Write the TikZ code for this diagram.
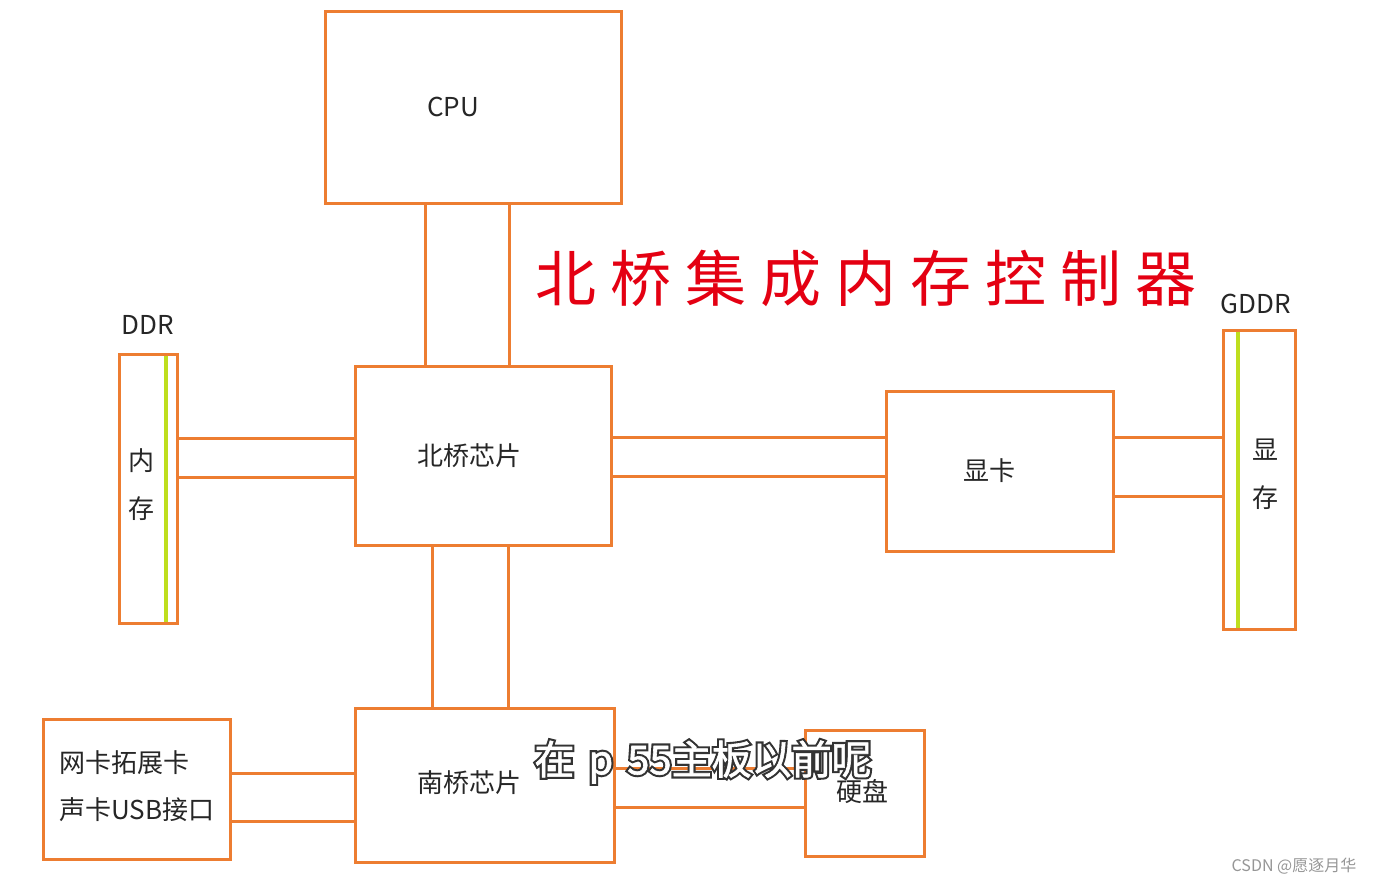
\documentclass[tikz,border=0pt]{standalone}
\usepackage{fontspec}
\setmainfont{Noto Sans CJK SC}
\newfontfamily\titlefont[LetterSpace=23]{Noto Sans CJK SC}
\newfontfamily\subfont[FakeBold=1.5]{Noto Sans CJK SC}
\newfontfamily\subfontbold[FakeBold=12]{Noto Sans CJK SC}
\definecolor{org}{RGB}{237,125,49}
\definecolor{grn}{RGB}{190,222,30}
\definecolor{ttl}{RGB}{228,0,18}
\definecolor{wm}{RGB}{150,150,150}
\newcommand{\subtxt}{在\hspace{14pt}p\hspace{14pt}55主板以前呢}
\begin{document}
\begin{tikzpicture}[x=1pt,y=-1pt,
  box/.style={draw=org,line width=3pt,inner sep=0pt,outer sep=0pt,anchor=north west},
  bus/.style={draw=org,line width=3pt},
  slot/.style={draw=grn,line width=3.5pt,shorten <=1.5pt,shorten >=1.5pt},
  lbl/.style={font=\fontsize{26}{30}\selectfont,inner sep=0pt,text=black!85},
  stack/.style={font=\fontsize{26}{48}\selectfont,inner sep=0pt,align=center,text=black!85}]
\useasboundingbox (0,0) rectangle (1377,884);
\fill[white] (0,0) rectangle (1377,884);

% boxes
\node[box,minimum width=296pt,minimum height=192pt] (cpu) at (325,11) {};
\node[box,minimum width=256pt,minimum height=179pt] (nb) at (355,366) {};
\node[box,minimum width=58pt,minimum height=269pt] (mem) at (119,354) {};
\node[box,minimum width=227pt,minimum height=160pt] (gpu) at (886,391) {};
\node[box,minimum width=72pt,minimum height=299pt] (vram) at (1223,330) {};
\node[box,minimum width=259pt,minimum height=154pt] (sb) at (355,708) {};
\node[box,minimum width=187pt,minimum height=140pt] (nic) at (43,719) {};
\node[box,minimum width=119pt,minimum height=126pt] (disk) at (805,730) {};

% green slot lines
\draw[slot] (mem.north -| 166,0) -- (mem.south -| 166,0);
\draw[slot] (vram.north -| 1238,0) -- (vram.south -| 1238,0);

% buses
\draw[bus] (cpu.south -| 425,0) -- (nb.north -| 425,0);
\draw[bus] (cpu.south -| 509,0) -- (nb.north -| 509,0);
\draw[bus] (mem.east |- 0,438) -- (nb.west |- 0,438);
\draw[bus] (mem.east |- 0,477) -- (nb.west |- 0,477);
\draw[bus] (nb.east |- 0,437) -- (gpu.west |- 0,437);
\draw[bus] (nb.east |- 0,476) -- (gpu.west |- 0,476);
\draw[bus] (gpu.east |- 0,437) -- (vram.west |- 0,437);
\draw[bus] (gpu.east |- 0,496) -- (vram.west |- 0,496);
\draw[bus] (nb.south -| 432,0) -- (sb.north -| 432,0);
\draw[bus] (nb.south -| 508,0) -- (sb.north -| 508,0);
\draw[bus] (nic.east |- 0,773) -- (sb.west |- 0,773);
\draw[bus] (nic.east |- 0,821) -- (sb.west |- 0,821);
\draw[bus] (sb.east |- 0,768) -- (disk.west |- 0,768);
\draw[bus] (sb.east |- 0,807) -- (disk.west |- 0,807);

% labels
\node[lbl] (tcpu) at (453,107) {CPU};
\node[lbl] (tnb) at (469,456) {北桥芯片};
\node[lbl] (tgpu) at (989,471) {显卡};
\node[lbl] (tsb) at (469,783) {南桥芯片};
\node[lbl] (tdisk) at (862,792) {硬盘};
\node[stack] (tmem) at (141,485) {内\\存};
\node[stack] (tvram) at (1265,474) {显\\存};
\node[lbl] (tddr) at (148,325) {DDR};
\node[lbl] (tgddr) at (1256,304) {GDDR};
\node[font=\fontsize{26}{47}\selectfont,inner sep=0pt,align=left,text=black!85] (tnic) at (137,786) {网卡拓展卡\\声卡USB接口};

% red title
\node[font=\titlefont\fontsize{61}{66}\selectfont,text=ttl,inner sep=0pt] (title) at (866,278) {北桥集成内存控制器};

% subtitle (outlined)
\node[font=\subfontbold\fontsize{40}{44}\selectfont,text=black!80,inner sep=0pt] (subo) at (703,762) {\subtxt};
\node[font=\subfont\fontsize{40}{44}\selectfont,text=white,inner sep=0pt] (sub) at (703,762) {\subtxt};

% watermark
\node[font=\fontsize{16}{18}\selectfont,text=wm,inner sep=0pt] (wmk) at (1294,866) {CSDN @愿逐月华};
\end{tikzpicture}
\end{document}
